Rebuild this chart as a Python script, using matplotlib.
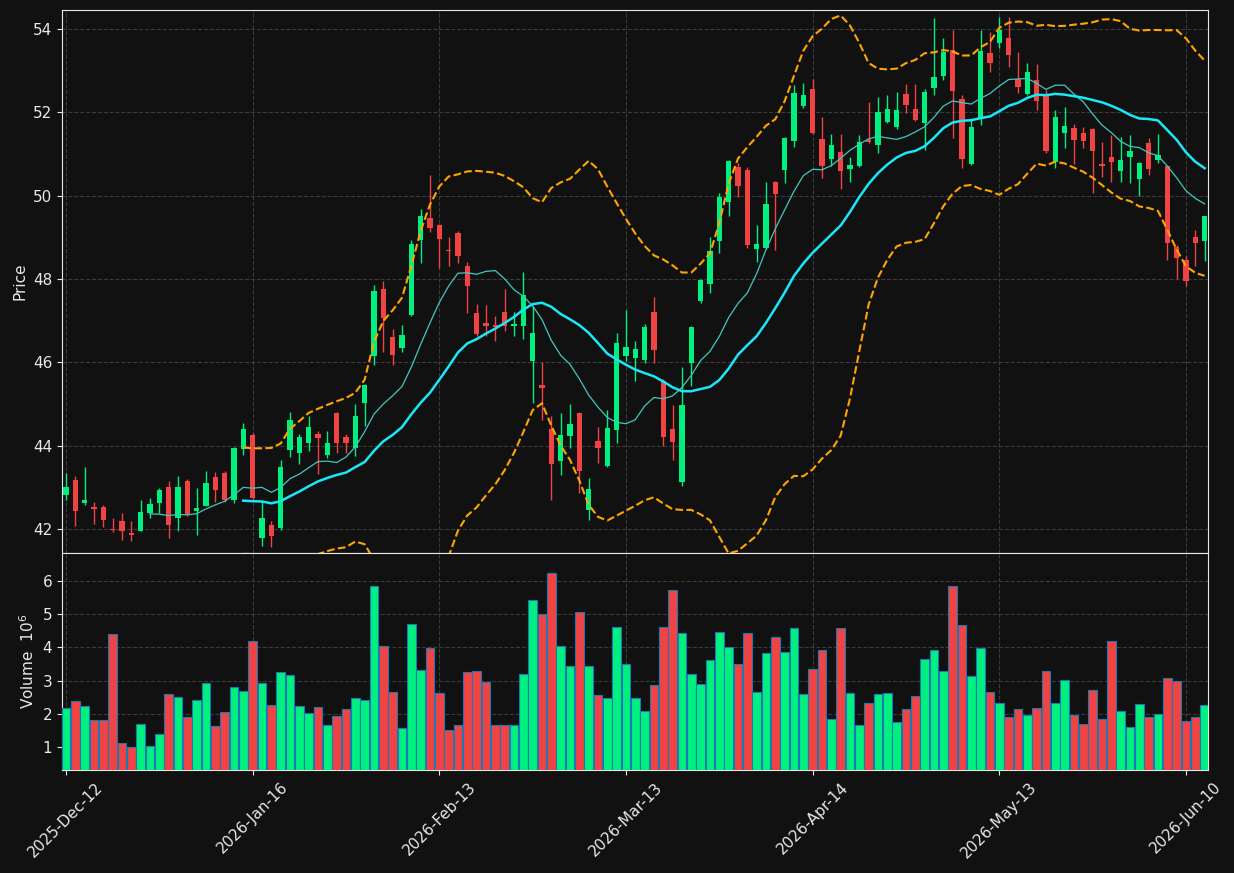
import numpy as np
import pandas as pd
import matplotlib
matplotlib.use("Agg")
import matplotlib.pyplot as plt

#DATA (prices and volume)#
opens = [42.82, 43.18, 42.63, 42.53, 42.53, 42.00, 42.19, 41.90, 41.94, 42.39,
         42.63, 43.00, 42.27, 43.15, 42.43, 42.54, 43.25, 43.35, 42.70, 43.92,
         44.26, 41.79, 42.10, 42.03, 43.90, 43.81, 44.07, 44.28, 43.78, 44.78,
         44.21, 43.93, 45.03, 46.14, 47.76, 46.61, 46.35, 47.14, 48.94, 49.46,
         49.30, 48.70, 49.10, 48.31, 47.18, 46.94, 46.90, 47.21, 46.88, 46.88,
         46.02, 45.46, 44.40, 43.64, 44.22, 44.78, 42.44, 44.11, 43.50, 44.38,
         46.14, 46.11, 46.06, 47.21, 45.54, 44.40, 43.13, 45.97, 47.46, 47.89,
         48.90, 49.86, 50.70, 50.62, 48.72, 48.75, 50.33, 50.62, 51.32, 52.15,
         52.56, 51.36, 50.89, 51.05, 50.65, 50.72, 51.34, 51.22, 51.78, 51.66,
         52.44, 52.08, 51.75, 52.59, 52.88, 53.50, 52.31, 50.77, 51.83, 53.42,
         53.67, 53.78, 52.80, 52.44, 52.78, 52.39, 50.82, 51.50, 51.63, 51.50,
         51.60, 50.76, 50.93, 50.60, 50.94, 50.41, 51.26, 50.86, 50.71, 48.76,
         48.45, 49.00, 48.92]
highs = [43.35, 43.27, 43.48, 42.64, 42.57, 42.26, 42.38, 42.19, 42.70, 42.74,
         42.97, 43.15, 43.27, 43.19, 42.98, 43.39, 43.37, 43.39, 43.96, 44.54,
         44.30, 42.66, 42.19, 43.66, 44.80, 44.27, 44.72, 44.36, 44.36, 44.80,
         44.27, 44.99, 45.48, 47.85, 47.95, 46.79, 46.89, 48.94, 49.67, 50.50,
         49.32, 49.00, 49.15, 48.41, 47.39, 47.37, 47.11, 47.76, 47.20, 48.16,
         47.34, 46.00, 44.70, 44.78, 45.00, 44.80, 43.23, 44.44, 44.86, 46.70,
         47.26, 46.50, 46.91, 47.56, 45.60, 44.98, 45.88, 46.87, 48.00, 49.00,
         50.06, 50.85, 50.78, 50.68, 49.30, 50.32, 50.35, 51.40, 52.66, 52.70,
         52.80, 51.90, 51.47, 51.47, 50.92, 51.45, 52.24, 52.36, 52.42, 52.50,
         52.68, 52.68, 52.55, 54.26, 53.78, 53.99, 52.42, 51.82, 53.99, 53.94,
         54.30, 54.28, 53.44, 53.18, 53.16, 52.54, 52.06, 52.12, 51.72, 51.64,
         51.62, 51.29, 51.46, 51.42, 51.45, 50.80, 51.38, 51.47, 50.72, 48.82,
         48.54, 49.18, 49.52]
lows = [42.70, 42.06, 42.57, 42.11, 42.04, 41.92, 41.73, 41.70, 41.94, 42.26,
        42.38, 41.78, 41.94, 42.30, 41.84, 42.54, 42.64, 42.64, 42.62, 43.78,
        42.72, 41.58, 41.56, 41.98, 43.72, 43.55, 43.86, 43.31, 43.70, 43.83,
        43.83, 43.76, 44.46, 45.93, 46.24, 45.93, 46.24, 47.12, 48.38, 49.12,
        48.26, 48.32, 48.38, 47.18, 46.62, 46.62, 46.50, 46.74, 46.62, 46.55,
        45.03, 44.62, 42.70, 43.30, 43.93, 42.86, 42.22, 43.59, 43.48, 44.06,
        46.02, 45.54, 45.98, 45.98, 43.98, 43.65, 43.03, 45.42, 47.42, 47.67,
        48.63, 49.50, 49.98, 48.74, 48.40, 48.73, 48.69, 50.30, 51.16, 52.10,
        51.49, 50.42, 50.71, 50.15, 50.32, 50.70, 51.27, 51.02, 51.75, 51.59,
        51.98, 51.80, 51.10, 52.41, 52.78, 51.38, 50.66, 50.74, 51.70, 52.96,
        53.54, 53.10, 52.46, 52.42, 52.06, 51.02, 50.66, 51.14, 50.76, 51.14,
        50.07, 50.46, 50.34, 50.34, 50.31, 50.00, 50.49, 50.78, 48.46, 47.99,
        47.82, 48.31, 48.42]
closes = [43.00, 42.42, 42.70, 42.48, 42.22, 41.96, 41.94, 41.84, 42.41, 42.60,
          42.94, 42.08, 43.00, 42.35, 42.50, 43.11, 42.92, 42.70, 43.95, 44.40,
          42.75, 42.27, 41.82, 43.49, 44.62, 44.21, 44.45, 44.19, 44.06, 44.06,
          44.06, 44.71, 45.46, 47.71, 47.07, 46.18, 46.66, 48.84, 49.51, 49.23,
          48.97, 48.66, 48.54, 47.84, 46.69, 46.88, 46.85, 46.86, 46.92, 47.62,
          46.70, 45.37, 43.55, 44.25, 44.52, 43.40, 42.95, 43.95, 44.42, 46.46,
          46.37, 46.32, 46.85, 46.30, 44.21, 44.09, 44.98, 46.85, 47.98, 48.66,
          49.97, 50.83, 50.24, 48.82, 48.84, 49.80, 50.05, 51.38, 52.46, 52.41,
          51.51, 50.72, 51.22, 50.60, 50.74, 51.29, 51.29, 52.01, 52.08, 52.06,
          52.18, 51.82, 52.48, 52.85, 53.46, 52.52, 50.89, 51.66, 53.47, 53.19,
          53.99, 53.38, 52.62, 52.97, 52.28, 51.07, 51.89, 51.67, 51.34, 51.32,
          51.08, 50.72, 50.82, 50.86, 51.07, 50.78, 50.65, 50.97, 48.86, 48.51,
          47.96, 48.87, 49.51]
volume = [2.165, 2.375, 2.235, 1.80, 1.80, 4.39, 1.12, 0.99, 1.69, 1.02,
          1.39, 2.59, 2.50, 1.90, 2.41, 2.92, 1.63, 2.05, 2.81, 2.68,
          4.19, 2.92, 2.27, 3.25, 3.16, 2.23, 2.01, 2.20, 1.66, 1.93,
          2.14, 2.47, 2.41, 5.84, 4.03, 2.65, 1.56, 4.69, 3.32, 3.98,
          2.63, 1.51, 1.66, 3.26, 3.29, 2.96, 1.66, 1.66, 1.66, 3.20,
          5.43, 5.01, 6.24, 4.04, 3.44, 5.07, 3.44, 2.57, 2.48, 4.61,
          3.50, 2.48, 2.08, 2.87, 4.61, 5.73, 4.43, 3.20, 2.90, 3.62,
          4.46, 4.01, 3.50, 4.43, 2.66, 3.83, 4.31, 3.86, 4.58, 2.60,
          3.35, 3.92, 1.84, 4.58, 2.63, 1.66, 2.33, 2.60, 2.63, 1.75,
          2.14, 2.54, 3.65, 3.92, 3.29, 5.85, 4.67, 3.14, 3.98, 2.66,
          2.33, 1.90, 2.14, 1.96, 2.17, 3.29, 2.33, 3.02, 1.96, 1.69,
          2.72, 1.84, 4.19, 2.08, 1.60, 2.30, 1.90, 1.99, 3.08, 2.99,
          1.78, 1.90, 2.27]
tick_pos = [0, 20, 40, 60, 80, 100, 120]
tick_labels = ["2025-Dec-12", "2026-Jan-16", "2026-Feb-13", "2026-Mar-13",
               "2026-Apr-14", "2026-May-13", "2026-Jun-10"]

#INDICATORS#
df = pd.DataFrame({"Open": opens, "High": highs, "Low": lows, "Close": closes, "Volume": volume})
df["MA10"] = df["Close"].rolling(10).mean()
df["MA20"] = df["Close"].rolling(20).mean()
std20 = df["Close"].rolling(20).std()
df["Upper"] = df["MA20"] + 2 * std20
df["Lower"] = df["MA20"] - 2 * std20

x = np.arange(len(df))
up = df["Close"] >= df["Open"]
up_color = "#00f080"
down_color = "#f04444"
colors = np.where(up, up_color, down_color)

#FIGURE#
bg = "#111111"
fig = plt.figure(figsize=(12.34, 8.73), dpi=100, facecolor=bg)
ax = fig.add_axes([0.0502, 0.3666, 0.9287, 0.622])
axv = fig.add_axes([0.0502, 0.118, 0.9287, 0.2486], sharex=ax)

for a in (ax, axv):
    a.set_facecolor(bg)
    for s in a.spines.values():
        s.set_color("#e8e8e8")
    a.tick_params(colors="#e8e8e8", labelsize=11)
    a.grid(True, color="#3a3a3a", linestyle="--", linewidth=0.8)
    a.set_axisbelow(True)

# candles
body_bottom = np.minimum(df["Open"], df["Close"])
body_height = np.maximum((df["Close"] - df["Open"]).abs(), 0.02)
ax.vlines(x, df["Low"], df["High"], colors=colors, linewidth=1.0, zorder=2)
ax.bar(x, body_height, bottom=body_bottom, width=0.55, color=colors, linewidth=0, zorder=3)

# moving averages + bands
ax.plot(x, df["MA10"], color="#40c8c0", linewidth=0.9, zorder=4)
ax.plot(x, df["MA20"], color="#18e8f8", linewidth=1.8, zorder=4)
ax.plot(x, df["Upper"], color="#ffa500", linestyle="--", linewidth=1.5, zorder=4)
ax.plot(x, df["Lower"], color="#ffa500", linestyle="--", linewidth=1.5, zorder=4)

ax.set_ylim(41.42, 54.46)
ax.set_xlim(-0.43, 122.36)
ax.set_yticks([42, 44, 46, 48, 50, 52, 54])
ax.set_ylabel("Price", color="#e8e8e8", fontsize=11)
ax.tick_params(axis="x", labelbottom=False, length=0)

# volume
axv.bar(x, df["Volume"], width=0.92, color=colors, edgecolor="#1f77b4", linewidth=0.8, zorder=3)
axv.set_ylim(0.307, 6.84)
axv.set_yticks([1, 2, 3, 4, 5, 6])
axv.set_ylabel("Volume  $10^6$", color="#e8e8e8", fontsize=11)
axv.set_xticks(tick_pos)
axv.set_xticklabels(tick_labels, rotation=45, ha="center")

fig.savefig("out.png", dpi=100, facecolor=bg)
